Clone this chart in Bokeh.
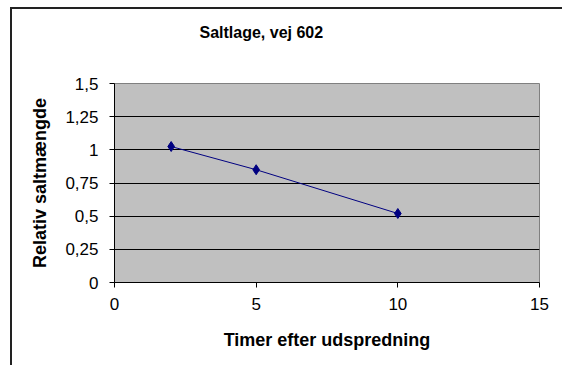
from bokeh.plotting import figure
from bokeh.models import FixedTicker, Range1d, Title
from bokeh.embed import file_html
from bokeh.resources import INLINE

# data
hours = [2, 5, 10]
salt = [1.025, 0.85, 0.52]

title_text = "Saltlage, vej 602"
x_label = "Timer efter udspredning"
y_label = "Relativ saltmængde"

x_ticks = [0, 5, 10, 15]
y_ticks = [0, 0.25, 0.5, 0.75, 1.0, 1.25, 1.5]
y_tick_labels = ["0", "0,25", "0,5", "0,75", "1", "1,25", "1,5"]

FONT = "Liberation Sans"

p = figure(width=552, height=358, output_backend="svg", toolbar_location=None,
           title=None,
           x_range=Range1d(0, 15), y_range=Range1d(0, 1.5),
           min_border_left=102, min_border_right=25, min_border_top=74, min_border_bottom=85,
           background_fill_color="#C0C0C0", border_fill_color="white",
           outline_line_color="#808080", outline_line_width=1,
           styles={"margin-left": "10px", "margin-top": "7px",
                   "border-top": "2px solid #222222", "border-left": "2px solid #222222"})

# spacer between frame and title (closest to the frame)
p.add_layout(Title(text=" ", text_font=FONT, text_font_size="10px", standoff=15), "above")
# main title (outer)
p.add_layout(Title(text=title_text, align="left", offset=85, vertical_align="top",
                   text_font=FONT, text_font_size="16px", text_font_style="bold",
                   text_color="black", standoff=26), "above")

p.xgrid.grid_line_color = None
p.ygrid.grid_line_color = "black"
p.ygrid.grid_line_width = 1

p.xaxis.ticker = FixedTicker(ticks=x_ticks)
p.yaxis.ticker = FixedTicker(ticks=y_ticks)
p.yaxis.major_label_overrides = {t: l for t, l in zip(y_ticks, y_tick_labels)}

for ax in (p.xaxis[0], p.yaxis[0]):
    ax.axis_line_color = "black"
    ax.major_tick_line_color = "black"
    ax.major_tick_in = 0
    ax.major_tick_out = 5
    ax.minor_tick_line_color = None
    ax.major_label_text_font = FONT
    ax.major_label_text_font_size = "17px"
    ax.major_label_text_color = "black"
    ax.axis_label_text_font = FONT
    ax.axis_label_text_font_size = "18px"
    ax.axis_label_text_font_style = "bold"
    ax.axis_label_text_color = "black"

p.xaxis.axis_label = x_label
p.yaxis.axis_label = y_label
p.xaxis.major_label_standoff = 10
p.yaxis.major_label_standoff = 11
p.xaxis.axis_label_standoff = 17
p.yaxis.axis_label_standoff = 12

p.line(hours, salt, line_color="#000080", line_width=1)
p.scatter(hours, salt, marker="diamond", size=10, fill_color="#000080", line_color="#000080")

open("out.html", "w").write(file_html(p, INLINE))
